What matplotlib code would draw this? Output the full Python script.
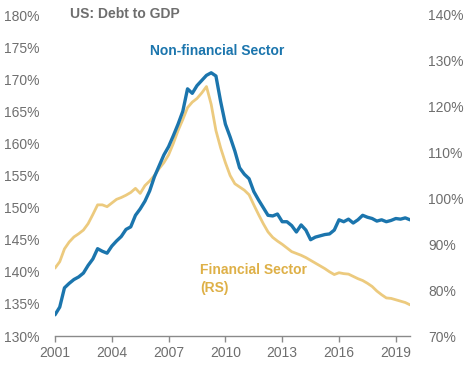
import numpy as np
import matplotlib
matplotlib.use("Agg")
import matplotlib.pyplot as plt
from matplotlib.ticker import FuncFormatter

plt.rcParams['font.family'] = ['Liberation Sans', 'DejaVu Sans']

# Quarterly data, 2001Q1 .. 2019Q4
start_year = 2001
nonfin = [133.3, 134.5, 137.5, 138.2, 138.8, 139.2, 139.8, 141.0,
          142.0, 143.6, 143.2, 142.9, 144.0, 144.8, 145.5, 146.6,
          147.0, 148.8, 149.8, 151.0, 152.6, 154.8, 156.5, 158.2,
          159.5, 161.2, 163.0, 165.0, 168.5, 167.8, 169.0, 169.8,
          170.6, 171.0, 170.5, 166.5, 163.0, 161.0, 158.8, 156.2,
          155.2, 154.5, 152.5, 151.2, 150.0, 148.8, 148.7, 149.0,
          147.8, 147.8, 147.2, 146.2, 147.3, 146.5, 145.0, 145.4,
          145.6, 145.8, 145.9, 146.5, 148.1, 147.8, 148.2, 147.6,
          148.1, 148.8, 148.5, 148.3, 147.9, 148.1, 147.8, 148.0,
          148.3, 148.2, 148.4, 148.1]
fin = [84.8, 86.2, 89.0, 90.5, 91.6, 92.3, 93.1, 94.5,
       96.5, 98.6, 98.6, 98.2, 99.0, 99.8, 100.2, 100.7,
       101.3, 102.2, 101.1, 102.8, 103.8, 105.0, 106.5, 107.8,
       109.5, 112.0, 114.8, 117.2, 119.8, 121.0, 121.8, 123.0,
       124.4, 120.5, 114.8, 111.0, 107.8, 105.0, 103.2, 102.5,
       101.8, 100.8, 98.6, 96.5, 94.5, 92.7, 91.5, 90.7,
       90.0, 89.2, 88.4, 88.0, 87.6, 87.1, 86.5, 85.9,
       85.3, 84.7, 84.0, 83.4, 83.8, 83.6, 83.5, 83.0,
       82.5, 82.1, 81.5, 80.8, 79.8, 79.0, 78.3, 78.2,
       77.9, 77.6, 77.3, 76.8]
x_ticks = [2001, 2004, 2007, 2010, 2013, 2016, 2019]
left_ticks = [130, 135, 140, 145, 150, 155, 160, 165, 170, 175, 180]
right_ticks = [70, 80, 90, 100, 110, 120, 130, 140]

t_nf = start_year + 0.25 * np.arange(len(nonfin))
t_f = start_year + 0.25 * np.arange(len(fin))

W, H = 472, 369
fig = plt.figure(figsize=(W / 100, H / 100), dpi=100)
ax = fig.add_axes([55 / W, 1 - 336 / H, (410 - 55) / W, (336 - 15) / H])
ax2 = ax.twinx()

blue = '#1b75ad'
gold_line = '#ecca7e'
gold_text = '#deb047'
gray = '#6e6e6e'

ax2.plot(t_f, fin, color=gold_line, lw=2.0, solid_capstyle='round', zorder=2)
ax.plot(t_nf, nonfin, color=blue, lw=2.4, solid_capstyle='round', zorder=3)
ax.set_zorder(ax2.get_zorder() + 1)
ax.patch.set_visible(False)

ax.set_xlim(2001, t_nf[-1])
ax.set_ylim(130, 180)
ax2.set_ylim(70, 140)
ax.set_xticks(x_ticks)
ax.set_yticks(left_ticks)
ax2.set_yticks(right_ticks)
fmt = FuncFormatter(lambda v, p: f"{v:.0f}%")
ax.yaxis.set_major_formatter(fmt)
ax2.yaxis.set_major_formatter(fmt)

for a in (ax, ax2):
    for s in ('top', 'left', 'right'):
        a.spines[s].set_visible(False)
ax2.spines['bottom'].set_visible(False)
ax.spines['bottom'].set_color('#8a8a8a')
ax.spines['bottom'].set_linewidth(1.0)

ax.tick_params(axis='x', direction='out', length=4, width=1.0, color='#8a8a8a',
               labelsize=10, labelcolor=gray, pad=3)
ax.tick_params(axis='y', length=0, labelsize=10, labelcolor=gray, pad=11)
ax2.tick_params(axis='y', length=0, labelsize=10, labelcolor=gray, pad=13)

fig.text(70 / W, 1 - 14 / H, 'US: Debt to GDP', fontsize=10, fontweight='bold',
         color=gray, ha='left', va='center')
fig.text(150 / W, 1 - 51 / H, 'Non-financial Sector', fontsize=10, fontweight='bold',
         color=blue, ha='left', va='center')
fig.text(200 / W, 1 - 270 / H, 'Financial Sector', fontsize=10, fontweight='bold',
         color=gold_text, ha='left', va='center')
fig.text(200 / W, 1 - 288 / H, '(RS)', fontsize=10, fontweight='bold',
         color=gold_text, ha='left', va='center')

fig.savefig('out.png', dpi=100)
